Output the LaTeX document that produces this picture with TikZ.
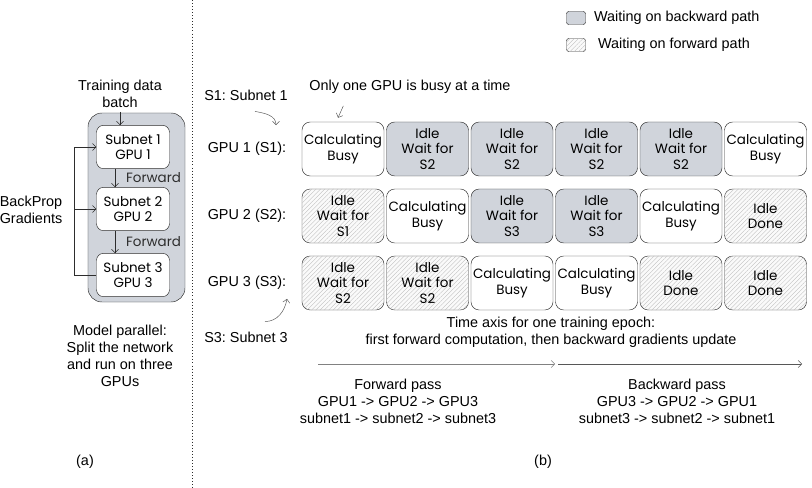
\documentclass[tikz,border=0pt]{standalone}
\usepackage{fontspec}
\setmainfont{Liberation Sans}
\newfontfamily\handfont{Poppins}
\usepackage{tikz}
\definecolor{slate}{RGB}{208, 212, 219}
\definecolor{ink}{RGB}{45, 45, 45}
\definecolor{hatch}{RGB}{190, 190, 190}
\usetikzlibrary{arrows.meta, positioning, calc, patterns.meta}
\frenchspacing

\begin{document}
\begin{tikzpicture}[
    x=0.03cm, y=-0.03cm,
    font=\fontsize{12.3}{14.5}\selectfont,
    >={Straight Barb[length=3pt,width=6pt]},
    cell/.style={draw=ink, rounded corners=7pt, fill=#1,
                 minimum width=2.46cm, minimum height=1.62cm, inner sep=1pt,
                 align=center, font=\handfont\fontsize{11.5}{13.5}\selectfont},
    busy/.style={cell=white},
    waitback/.style={cell=slate},
    waitfwd/.style={cell=gray!4,
                    postaction={pattern={Lines[angle=45,distance=2.6pt,line width=0.3pt]},
                                pattern color=hatch}},
    subnet/.style={draw=ink, rounded corners=6pt, fill=white,
                   minimum width=2.19cm, minimum height=1.3cm, inner sep=1pt,
                   align=center, font=\handfont\fontsize{11.5}{13.5}\selectfont},
    handlbl/.style={font=\handfont\fontsize{11.5}{13.5}\selectfont},
    txt/.style={align=center}
]
    \useasboundingbox (0,0) rectangle (812,488);

    % Divider
    \draw[dotted, ink, line width=0.6pt] (192,0) -- (192,488);

    % (a) Model parallel
    \node[txt] (batch) at (120,94) {Training data\\batch};
    \node[draw=ink, fill=slate, rounded corners=12pt,
          minimum width=2.91cm, minimum height=5.67cm] (model) at (136.5,207.5) {};
    \node[subnet] (sub1) at (133,147) {Subnet 1\\GPU 1};
    \node[subnet] (sub2) at (133,209) {Subnet 2\\GPU 2};
    \node[subnet] (sub3) at (133,275) {Subnet 3\\GPU 3};
    \coordinate (fwdx) at (115,0);
    \coordinate (bpx) at (74,0);

    \draw[->, ink] (batch.south) -- (batch.south |- sub1.north);
    \draw[->, ink] (sub1.south -| fwdx) -- (sub2.north -| fwdx)
        node[handlbl, midway, right=6pt] (fwd1) {Forward};
    \draw[->, ink] (sub2.south -| fwdx) -- (sub3.north -| fwdx)
        node[handlbl, midway, right=6pt] (fwd2) {Forward};
    \draw[->, ink] (sub3.west) -- (sub3.west -| bpx) |- (sub1.west);
    \draw[->, ink] (sub2.west -| bpx) -- (sub2.west);

    \node[txt] (backprop) at (31,210) {BackProp\\Gradients};
    \node[txt] (mpnote) at (120,356) {Model parallel:\\Split the network\\and run on three\\GPUs};
    \node (capa) at (85,462) {(a)};

    % Legend
    \node[waitback, minimum width=0.57cm, minimum height=0.39cm, rounded corners=2pt] (legback) at (576,18) {};
    \node[anchor=west] (legbacktxt) at (590,18) {Waiting on backward path};
    \node[waitfwd, minimum width=0.57cm, minimum height=0.39cm, rounded corners=2pt] (legfwd) at (576,45) {};
    \node[anchor=west] (legfwdtxt) at (594,45) {Waiting on forward path};

    % GPU labels
    \node (s1lbl) at (246,95) {S1: Subnet 1};
    \node (gpu1lbl) at (247,149) {GPU 1 (S1):};
    \node (gpu2lbl) at (247,216) {GPU 2 (S2):};
    \node (gpu3lbl) at (247,283) {GPU 3 (S3):};
    \node (s3lbl) at (246,337) {S3: Subnet 3};
    \node (busynote) at (410,87) {Only one GPU is busy at a time};

    % GPU 1 row
    \node[busy]     (r1c1) at (343,149)   {Calculating\\Busy};
    \node[waitback] (r1c2) at (427.5,149) {Idle\\Wait for\\S2};
    \node[waitback] (r1c3) at (512,149)   {Idle\\Wait for\\S2};
    \node[waitback] (r1c4) at (596.5,149) {Idle\\Wait for\\S2};
    \node[waitback] (r1c5) at (681,149)   {Idle\\Wait for\\S2};
    \node[busy]     (r1c6) at (765.5,149) {Calculating\\Busy};

    % GPU 2 row
    \node[waitfwd]  (r2c1) at (343,216)   {Idle\\Wait for\\S1};
    \node[busy]     (r2c2) at (427.5,216) {Calculating\\Busy};
    \node[waitback] (r2c3) at (512,216)   {Idle\\Wait for\\S3};
    \node[waitback] (r2c4) at (596.5,216) {Idle\\Wait for\\S3};
    \node[busy]     (r2c5) at (681,216)   {Calculating\\Busy};
    \node[waitfwd]  (r2c6) at (765.5,216) {Idle\\Done};

    % GPU 3 row
    \node[waitfwd]  (r3c1) at (343,283)   {Idle\\Wait for\\S2};
    \node[waitfwd]  (r3c2) at (427.5,283) {Idle\\Wait for\\S2};
    \node[busy]     (r3c3) at (512,283)   {Calculating\\Busy};
    \node[busy]     (r3c4) at (596.5,283) {Calculating\\Busy};
    \node[waitfwd]  (r3c5) at (681,283)   {Idle\\Done};
    \node[waitfwd]  (r3c6) at (765.5,283) {Idle\\Done};

    % Pointer arrows
    \draw[->, ink!80] ($(s1lbl.south)+(9,7)$) to[out=-10, in=90] ($(gpu1lbl.north)+(29,-13)$);
    \draw[->, ink!80] ($(s3lbl.north)+(19,-6)$) to[out=0, in=-100] ($(gpu3lbl.south)+(40,5)$);
    \draw[->, ink!80] ($(busynote.south west)+(38,8)$) -- ($(r1c1.north)+(-5,-4)$);

    % Time axis
    \node[txt] (timetxt) at (551,332) {Time axis for one training epoch:\\first forward computation, then backward gradients update};
    \coordinate (ax0) at (318,364);
    \coordinate (ax1) at (555,364);
    \coordinate (ax2) at (558,364);
    \coordinate (ax3) at (802,364);
    \draw[->, ink!60] (ax0) -- (ax1);
    \draw[->, ink!80] (ax2) -- (ax3);
    \node[txt] (fwdtxt) at (398,401) {Forward pass\\GPU1 -> GPU2 -> GPU3\\subnet1 -> subnet2 -> subnet3};
    \node[txt] (bwdtxt) at (677,401) {Backward pass\\GPU3 -> GPU2 -> GPU1\\subnet3 -> subnet2 -> subnet1};
    \node (capb) at (543,462) {(b)};
\end{tikzpicture}
\end{document}
